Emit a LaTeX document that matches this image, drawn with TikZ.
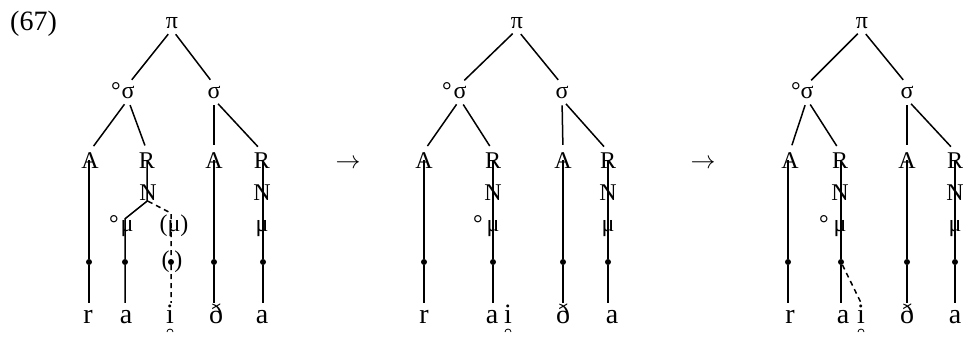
\documentclass[tikz,border=0pt]{standalone}
\usepackage{fontspec}
\setmainfont{Liberation Serif}
\newcommand{\labsize}{\fontsize{24}{26}\selectfont}
\newcommand{\segsize}{\fontsize{28}{30}\selectfont}

\begin{document}
\begin{tikzpicture}[x=1pt,y=-1pt,
  lab/.style={font=\labsize,anchor=base,inner sep=1pt},
  seg/.style={font=\segsize,anchor=base,inner sep=0pt,text height=20pt,text depth=0pt},
  dot/.style={circle,fill,inner sep=0pt,minimum size=6pt},
  branch/.style={line width=1.5pt,shorten <=6pt,shorten >=6pt},
  assoc/.style={line width=1.5pt},
  link/.style={line width=1.5pt,dash pattern=on 5pt off 4pt}]
  \useasboundingbox (0,0) rectangle (963,338);
  \clip (0,0) rectangle (963,338);
  \node[seg,anchor=base west,text height=] (ex) at (10,30) {(67)};

  % first tree
  \node[lab] (pi1) at (172,28) {π};
  \node[lab] (sg1) at (128,98) {σ};
  \node[lab] (deg1) at (116,98) {°};
  \node[lab] (sg2) at (214,98) {σ};
  \node[lab] (a1) at (90,168) {A};
  \node[lab] (r1) at (147,168) {R};
  \node[lab] (a2) at (214,168) {A};
  \node[lab] (r2) at (262,168) {R};
  \node[lab] (n1) at (148,200) {N};
  \node[lab] (n2) at (262,200) {N};
  \node[lab] (m1) at (127,231) {μ};
  \node[lab] (deg2) at (114,231) {°};
  \node[lab] (pm1) at (174,231) {(μ)};
  \node[lab] (m2) at (262,231) {μ};
  \node[lab] (pd1) at (172,267) {(\hspace{5pt})};
  \node[dot] (d1) at (89,262) {};
  \node[dot] (d2) at (125,262) {};
  \node[dot] (d3) at (171,262) {};
  \node[dot] (d4) at (214,262) {};
  \node[dot] (d5) at (263,262) {};
  \node[seg] (s1) at (88,323) {r};
  \node[seg] (s2) at (126,323) {a};
  \node[seg] (s3) at (170,323) {i};
  \node[seg] (s4) at (216,323) {ð};
  \node[seg] (s5) at (262,323) {a};
  \draw[branch] (pi1.south) -- (sg1.north);
  \draw[branch] (pi1.south) -- (sg2.north);
  \draw[branch] (sg1.south) -- (a1.north);
  \draw[branch] (sg1.south) -- (r1.north);
  \draw[branch] (sg2.south) -- (a2.north);
  \draw[branch] (sg2.south) -- (r2.north);
  \draw[assoc] (d1 |- a1.center) -- (d1) -- (d1 |- s1.north);
  \draw[assoc] (r1.center) -- (r1 |- n1.south) -- (d2 |- m1.north) -- (d2) -- (d2 |- s2.north);
  \draw[link] (n1.south) -- (d3 |- pm1.north) -- (d3) -- (d3 |- s3.north);
  \draw[assoc] (d4 |- a2.center) -- (d4) -- (d4 |- s4.north);
  \draw[assoc] (d5 |- r2.center) -- (d5) -- (d5 |- s5.north);
  \draw[line width=0.8pt] (s3.base) ++(-3,9) arc[start angle=180,end angle=360,radius=3];

  \node[lab,font=\fontsize{27}{27}\selectfont] (ar1) at (348,168) {$\rightarrow$};

  % second tree
  \node[lab] (pi2) at (517,28) {π};
  \node[lab] (sg3) at (460,98) {σ};
  \node[lab] (deg3) at (447,98) {°};
  \node[lab] (sg4) at (562,98) {σ};
  \node[lab] (a3) at (424,168) {A};
  \node[lab] (r3) at (493,168) {R};
  \node[lab] (a4) at (563,168) {A};
  \node[lab] (r4) at (608,168) {R};
  \node[lab] (n3) at (493,200) {N};
  \node[lab] (n4) at (608,200) {N};
  \node[lab] (m3) at (493,231) {μ};
  \node[lab] (deg4) at (478,231) {°};
  \node[lab] (m4) at (608,231) {μ};
  \node[dot] (d6) at (424,262) {};
  \node[dot] (d7) at (493,262) {};
  \node[dot] (d8) at (563,262) {};
  \node[dot] (d9) at (608,262) {};
  \node[seg] (s6) at (424,323) {r};
  \node[seg] (s7) at (492,323) {a};
  \node[seg] (s8) at (508,323) {i};
  \node[seg] (s9) at (563,323) {ð};
  \node[seg] (s10) at (612,323) {a};
  \draw[branch] (pi2.south) -- (sg3.north);
  \draw[branch] (pi2.south) -- (sg4.north);
  \draw[branch] (sg3.south) -- (a3.north);
  \draw[branch] (sg3.south) -- (r3.north);
  \draw[branch] (sg4.south) -- (a4.north);
  \draw[branch] (sg4.south) -- (r4.north);
  \draw[assoc] (d6 |- a3.center) -- (d6) -- (d6 |- s6.north);
  \draw[assoc] (d7 |- r3.center) -- (d7) -- (d7 |- s7.north);
  \draw[assoc] (d8 |- a4.center) -- (d8) -- (d8 |- s9.north);
  \draw[assoc] (d9 |- r4.center) -- (d9) -- (d9 |- s10.north);
  \draw[line width=0.8pt] (s8.base) ++(-3,9) arc[start angle=180,end angle=360,radius=3];

  \node[lab,font=\fontsize{27}{27}\selectfont] (ar2) at (703,168) {$\rightarrow$};

  % third tree
  \node[lab] (pi3) at (862,28) {π};
  \node[lab] (sg5) at (807,98) {σ};
  \node[lab] (deg5) at (796,98) {°};
  \node[lab] (sg6) at (907,98) {σ};
  \node[lab] (a5) at (790,168) {A};
  \node[lab] (r5) at (840,168) {R};
  \node[lab] (a6) at (907,168) {A};
  \node[lab] (r6) at (955,168) {R};
  \node[lab] (n5) at (840,200) {N};
  \node[lab] (n6) at (955,200) {N};
  \node[lab] (m5) at (840,231) {μ};
  \node[lab] (deg6) at (824,231) {°};
  \node[lab] (m6) at (955,231) {μ};
  \node[dot] (d10) at (788,262) {};
  \node[dot] (d11) at (841,262) {};
  \node[dot] (d12) at (907,262) {};
  \node[dot] (d13) at (955,262) {};
  \node[seg] (s11) at (790,323) {r};
  \node[seg] (s12) at (843,323) {a};
  \node[seg] (s13) at (861,323) {i};
  \node[seg] (s14) at (907,323) {ð};
  \node[seg] (s15) at (955,323) {a};
  \draw[branch] (pi3.south) -- (sg5.north);
  \draw[branch] (pi3.south) -- (sg6.north);
  \draw[branch] (sg5.south) -- (a5.north);
  \draw[branch] (sg5.south) -- (r5.north);
  \draw[branch] (sg6.south) -- (a6.north);
  \draw[branch] (sg6.south) -- (r6.north);
  \draw[assoc] (d10 |- a5.center) -- (d10) -- (d10 |- s11.north);
  \draw[assoc] (d11 |- r5.center) -- (d11) -- (d11 |- s12.north);
  \draw[assoc] (d12 |- a6.center) -- (d12) -- (d12 |- s14.north);
  \draw[assoc] (d13 |- r6.center) -- (d13) -- (d13 |- s15.north);
  \draw[link] (d11) -- (s13.north);
  \draw[line width=0.8pt] (s13.base) ++(-3,9) arc[start angle=180,end angle=360,radius=3];
\end{tikzpicture}
\end{document}
